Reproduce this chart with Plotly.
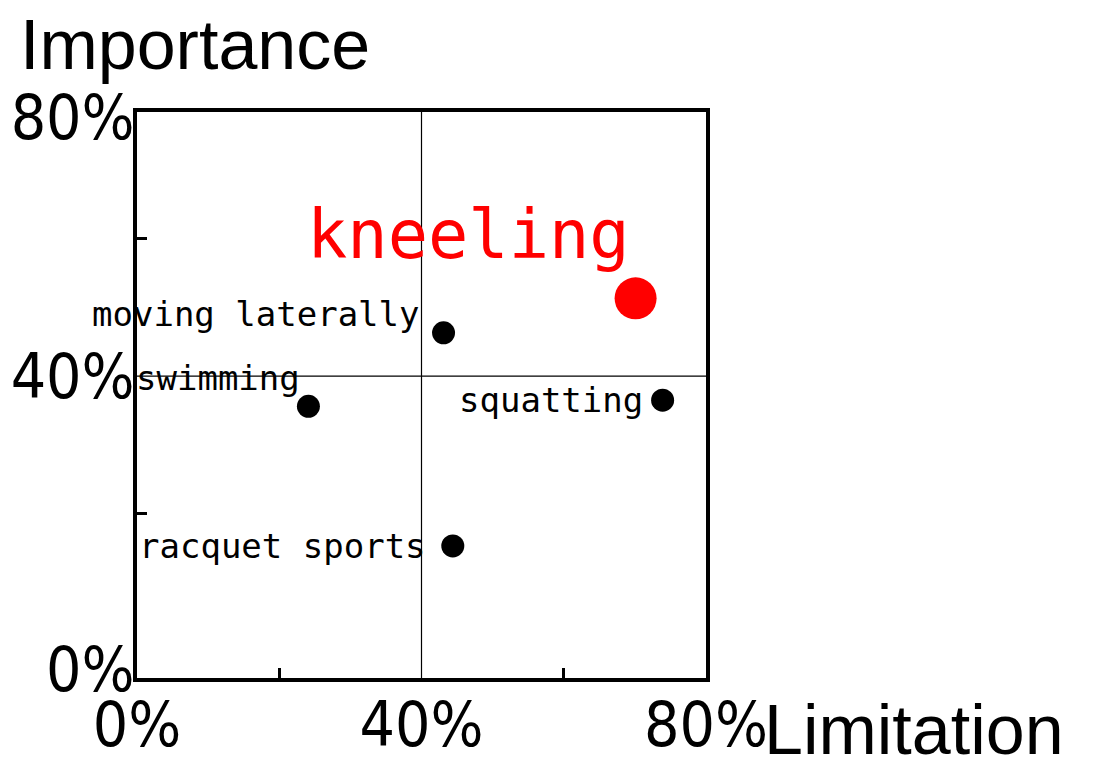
import plotly.graph_objects as go

# activities, limitation (x, %) and importance (y, %)
activities = ["kneeling", "moving laterally", "swimming", "squatting", "racquet sports"]
limitation = [70.1, 43.1, 24.1, 73.9, 44.4]
importance = [51.3, 46.3, 35.6, 36.5, 15.3]
highlight = "kneeling"

x_ticks = [0, 40, 80]
x_minor = [20, 60]
y_minor = [20, 60]
tick_text = ["0%", "40%", "80%"]

# reference frame is slightly off-square in y, range matched to its tick marks
y_lo, y_hi = -3.9, 78.4
x_lo, x_hi = 0, 80

num_font = "DejaVu Sans Condensed, Liberation Sans Narrow, Arial Narrow, sans-serif"
lab_font = "DejaVu Sans Mono, Liberation Mono, monospace"

fig = go.Figure()

colors = ["#ff0000" if a == highlight else "black" for a in activities]
sizes = [42 if a == highlight else 23 for a in activities]
fig.add_trace(go.Scatter(x=limitation, y=importance, mode="markers",
                         marker=dict(color=colors, size=sizes, opacity=1, line=dict(width=0)),
                         hoverinfo="text", text=activities, showlegend=False))

# text offsets (px) for each label, left of its point
offsets = {"kneeling": (-4, 63), "moving laterally": (-22, 19), "swimming": (-6, 28),
           "squatting": (-18, 0), "racquet sports": (-25, 0)}
for a, xv, yv in zip(activities, limitation, importance):
    dx, dy = offsets[a]
    big = a == highlight
    fig.add_annotation(x=xv, y=yv, xref="x", yref="y", text=a, showarrow=False,
                       xanchor="right", yanchor="middle", xshift=dx, yshift=dy,
                       font=dict(family=lab_font, size=67 if big else 34,
                                 color="#ff0000" if big else "black"))

# crosshair at 40% / 40%
fig.add_shape(type="line", xref="x", yref="paper", x0=40, x1=40, y0=0, y1=1,
              line=dict(color="black", width=1.2), layer="below")
fig.add_shape(type="line", xref="paper", yref="y", x0=0, x1=1, y0=40, y1=40,
              line=dict(color="black", width=1.2), layer="below")

fig.add_annotation(text="Importance", xref="paper", yref="paper", x=-0.209, y=1.19,
                   xanchor="left", yanchor="top", showarrow=False,
                   font=dict(family="Liberation Sans, Arial, sans-serif", size=70, color="black"))
fig.add_annotation(text="Limitation", xref="paper", yref="paper", x=1.098, y=-0.092,
                   xanchor="left", yanchor="middle", showarrow=False,
                   font=dict(family="Liberation Sans, Arial, sans-serif", size=70, color="black"))

fig.update_xaxes(range=[x_lo, x_hi], tickvals=x_ticks, ticktext=tick_text, ticks="",
                 showgrid=False, zeroline=False, showline=True, linewidth=4, linecolor="black",
                 mirror=True, automargin=False, ticklabelstandoff=-10,
                 tickfont=dict(family=num_font, size=62, color="black"),
                 minor=dict(tickvals=x_minor, ticks="inside", ticklen=10, tickwidth=3,
                            tickcolor="black", showgrid=False))
fig.update_yaxes(range=[y_lo, y_hi], tickvals=[y_lo + 1.2, 40, y_hi - 0.8], ticktext=tick_text,
                 ticks="", showgrid=False, zeroline=False, showline=True, linewidth=4,
                 linecolor="black", mirror=True, automargin=False, ticklabelstandoff=-14,
                 tickfont=dict(family=num_font, size=62, color="black"),
                 minor=dict(tickvals=y_minor, ticks="inside", ticklen=10, tickwidth=3,
                            tickcolor="black", showgrid=False))

# page body adds an 8px offset, margins account for it
fig.update_layout(width=1112, height=766, autosize=False,
                  margin=dict(l=129, r=414, t=104, b=96),
                  plot_bgcolor="white", paper_bgcolor="white", showlegend=False)

fig.write_html("out.html")
